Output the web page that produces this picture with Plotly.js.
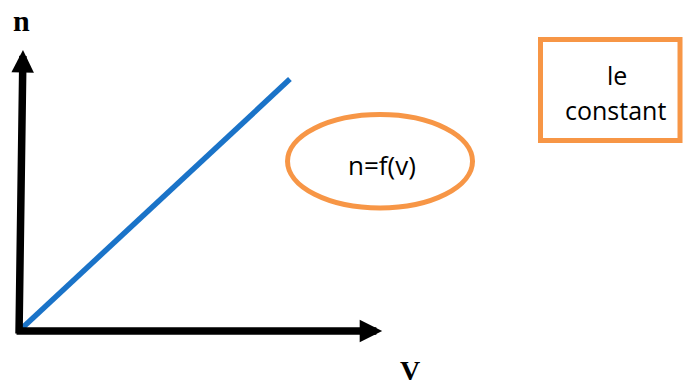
<!DOCTYPE html>
<html>
<head>
<meta charset="utf-8">
<script src="https://cdn.plot.ly/plotly-3.0.1.min.js"></script>
<style>
  html, body { margin: 0; padding: 0; background: #ffffff; }
  #chart { width: 683px; height: 390px; }
</style>
</head>
<body>
<div id="chart"></div>
<script>
// n grows in proportion to V
const V = [0, 4.08];
const n = [0, 7.61];

// lengths of the two drawn axis arrows, in data units
const vAxisEnd = 5.47;
const nAxisEnd = 8.49;

// labels
const xLabel = 'V';
const yLabel = 'n';
const relationLabel = 'n=f(v)';
const noteLines = ['le', 'constant'];

const blue = '#1a73c8';
const orange = '#f79646';
const ink = '#000000';

const trace = {
  x: V,
  y: n,
  type: 'scatter',
  mode: 'lines',
  line: { color: blue, width: 5.5 },
  hoverinfo: 'skip'
};

const arrowStyle = {
  text: '',
  showarrow: true,
  arrowhead: 2,
  arrowwidth: 7.5,
  arrowsize: 0.6,
  arrowcolor: ink,
  xref: 'x', yref: 'y', axref: 'x', ayref: 'y',
  standoff: 0
};

const annotations = [
  // vertical axis arrow
  Object.assign({}, arrowStyle, { x: 0.06, y: nAxisEnd, ax: 0, ay: -0.12 }),
  // horizontal axis arrow
  Object.assign({}, arrowStyle, { x: vAxisEnd, y: 0, ax: -0.06, ay: 0 }),
  // axis names
  {
    text: '<b>' + yLabel + '</b>', showarrow: false,
    xref: 'paper', yref: 'paper', x: 0.0045, y: 0.937,
    xanchor: 'center', yanchor: 'middle',
    font: { family: 'Liberation Serif, serif', size: 30, color: ink }
  },
  {
    text: '<b>' + xLabel + '</b>', showarrow: false,
    xref: 'paper', yref: 'paper', x: 0.589, y: -0.12,
    xanchor: 'center', yanchor: 'middle',
    font: { family: 'Liberation Serif, serif', size: 28, color: ink }
  },
  // relation inside the ellipse
  {
    text: relationLabel, showarrow: false,
    xref: 'paper', yref: 'paper', x: 0.5467, y: 0.5015,
    xanchor: 'center', yanchor: 'middle',
    font: { family: 'Open Sans, sans-serif', size: 26, color: ink }
  },
  // note inside the box
  {
    text: noteLines[0], showarrow: false,
    xref: 'paper', yref: 'paper', x: 0.9006, y: 0.7734,
    xanchor: 'center', yanchor: 'middle',
    font: { family: 'Open Sans, sans-serif', size: 25, color: ink }
  },
  {
    text: noteLines[1], showarrow: false,
    xref: 'paper', yref: 'paper', x: 0.8976, y: 0.6677,
    xanchor: 'center', yanchor: 'middle',
    font: { family: 'Open Sans, sans-serif', size: 25, color: ink }
  }
];

const shapes = [
  {
    type: 'circle', xref: 'paper', yref: 'paper',
    x0: 0.4044, x1: 0.683, y0: 0.3716, y1: 0.654,
    line: { color: orange, width: 5 }, fillcolor: 'rgba(0,0,0,0)'
  },
  {
    type: 'rect', xref: 'paper', yref: 'paper',
    x0: 0.7854, x1: 0.9955, y0: 0.5755, y1: 0.8807,
    line: { color: orange, width: 5 }, fillcolor: 'rgba(0,0,0,0)'
  }
];

const hiddenAxis = {
  range: [0, 10],
  showgrid: false, zeroline: false, showline: false,
  showticklabels: false, ticks: '', fixedrange: true
};

const layout = {
  width: 683,
  height: 390,
  margin: { l: 19, r: 0, t: 0, b: 59 },
  paper_bgcolor: '#ffffff',
  plot_bgcolor: '#ffffff',
  showlegend: false,
  xaxis: Object.assign({}, hiddenAxis),
  yaxis: Object.assign({}, hiddenAxis),
  annotations: annotations,
  shapes: shapes
};

Plotly.newPlot('chart', [trace], layout, { staticPlot: true, displayModeBar: false });
</script>
</body>
</html>
